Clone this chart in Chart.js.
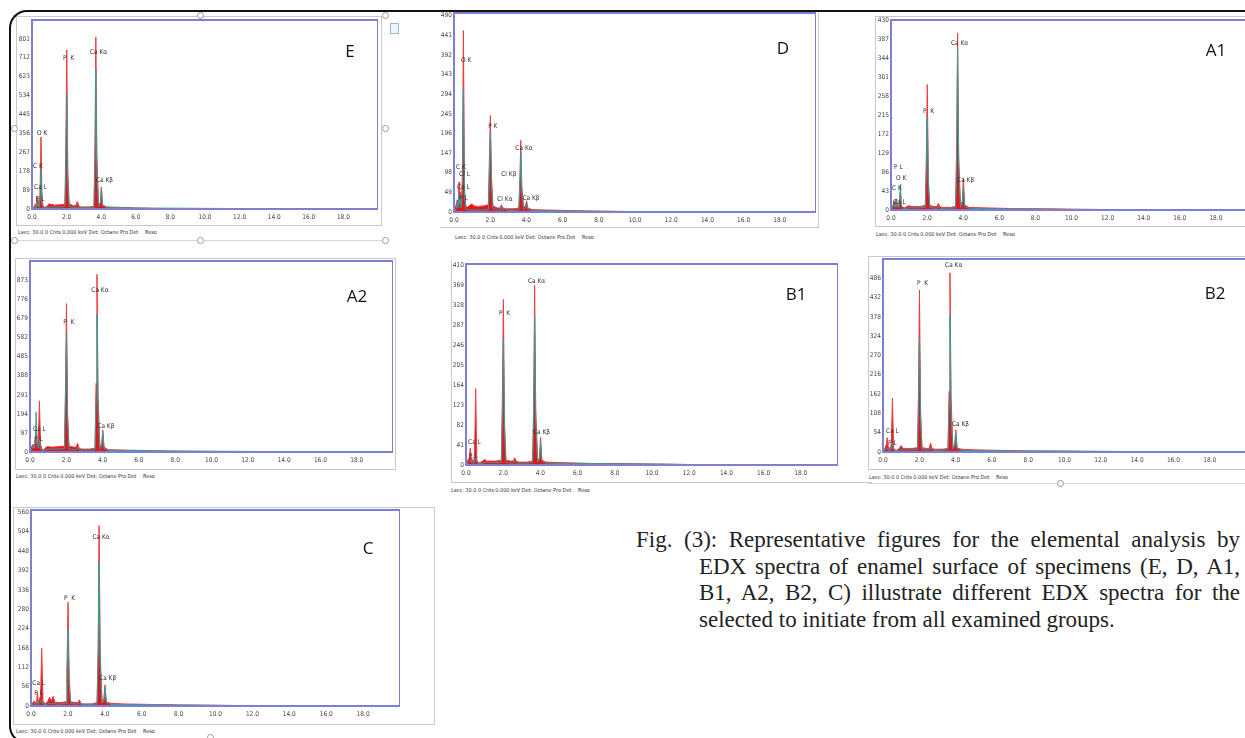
<!DOCTYPE html>
<html>
<head>
<meta charset="utf-8">
<script src="https://cdn.jsdelivr.net/npm/chart.js@4.4.1/dist/chart.umd.min.js"></script>
<style>
    html, body { margin: 0; padding: 0; background: #fff; }
    body { width: 1245px; height: 738px; overflow: hidden; position: relative; }
    .frame-outer { position: absolute; left: 9px; top: 10px; width: 1400px; height: 730px;
        border: 2.5px solid #111; border-right: none; border-radius: 18px 0 0 18px; }
    .panel-box { position: absolute; border: 1px solid #c9c9c9; }
    .rule { position: absolute; height: 0; border-top: 1px solid #d6d6d6; }
    .handle { position: absolute; width: 5px; height: 5px; border: 1px solid #999; border-radius: 50%; background: #fff; }
    .chart-wrap { position: absolute; }
    .status { position: absolute; font: 5.5px 'Liberation Sans Narrow', 'DejaVu Sans Condensed', Arial, sans-serif; color: #333; white-space: nowrap; }
    .letter { position: absolute; font: 17px 'Open Sans', 'Noto Sans', sans-serif; color: #111; transform: translate(-50%, -50%); }
    .icon { position: absolute; left: 390px; top: 23px; width: 7px; height: 9px; border: 1px solid #9bb7dd; background: #eef4fb; }
    .caption { position: absolute; left: 636px; top: 527px; width: 604px; font-family: 'Liberation Serif', 'Times New Roman', serif; font-size: 23px; color: #222; }
    .caption .ln { height: 26.7px; line-height: 26.7px; }
    .caption .j { text-align: justify; text-align-last: justify; }
    .caption .in { margin-left: 63px; }
</style>
</head>
<body>
<div class="frame-outer"></div>

<!-- panel frames -->
<div class="panel-box" style="left:16px; top:16px; width:364px; height:208px;"></div>
<div class="panel-box" style="left:440px; top:12px; width:378px; height:215px; border-left:none; border-top:none;"></div>
<div class="panel-box" style="left:875px; top:16px; width:400px; height:209px;"></div>
<div class="panel-box" style="left:15px; top:258px; width:379px; height:210px;"></div>
<div class="panel-box" style="left:451px; top:260px; width:420px; height:222px; border-right:none; border-top:none;"></div>
<div class="panel-box" style="left:868px; top:256px; width:400px; height:212px;"></div>
<div class="panel-box" style="left:13px; top:507px; width:420px; height:216px;"></div>

<div class="rule" style="left:14px; top:240px; width:371px;"></div>
<div class="rule" style="left:868px; top:483px; width:400px;"></div>
<div class="handle" style="left:197px; top:12px;"></div>
<div class="handle" style="left:382px; top:12px;"></div>
<div class="handle" style="left:11px; top:125px;"></div>
<div class="handle" style="left:382px; top:125px;"></div>
<div class="handle" style="left:11px; top:237px;"></div>
<div class="handle" style="left:197px; top:237px;"></div>
<div class="handle" style="left:382px; top:237px;"></div>
<div class="handle" style="left:1057px; top:480px;"></div>
<div class="handle" style="left:207px; top:734px;"></div>
<div class="icon"></div>

<div class="chart-wrap" id="wrapE"><canvas id="chartE"></canvas></div>
<div class="chart-wrap" id="wrapD"><canvas id="chartD"></canvas></div>
<div class="chart-wrap" id="wrapA1"><canvas id="chartA1"></canvas></div>
<div class="chart-wrap" id="wrapA2"><canvas id="chartA2"></canvas></div>
<div class="chart-wrap" id="wrapB1"><canvas id="chartB1"></canvas></div>
<div class="chart-wrap" id="wrapB2"><canvas id="chartB2"></canvas></div>
<div class="chart-wrap" id="wrapC"><canvas id="chartC"></canvas></div>

<div class="caption">
    <div class="ln j">Fig. (3): Representative figures for the elemental analysis by</div>
    <div class="ln j in">EDX spectra of enamel surface of specimens (E, D, A1,</div>
    <div class="ln j in">B1, A2, B2, C) illustrate different EDX spectra for the</div>
    <div class="ln in">selected to initiate from all examined groups.</div>
</div>

<script>
'use strict';

// energy axis shared by all spectra (keV)
const energyKeV = [0, 0.1, 0.18, 0.23, 0.28, 0.31, 0.34, 0.4, 0.46, 0.52,
    0.58, 0.65, 0.75, 0.9, 1.0, 1.1, 1.2, 1.3, 1.6, 1.9,
    1.95, 2.01, 2.07, 2.15, 2.4, 2.55, 2.62, 2.7, 2.82, 3.0,
    3.3, 3.58, 3.64, 3.69, 3.75, 3.85, 3.95, 4.01, 4.08, 4.3,
    5.0, 6.0, 7.0, 8.0, 10.0, 12.0, 14.0, 16.0, 20.0];
const energyTicks = [0, 2, 4, 6, 8, 10, 12, 14, 16, 18];

// measured counts (red) and fitted counts (teal) per specimen
const countsE = [0, 8, 22, 10, 60, 30, 45, 15, 60, 339, 40, 12, 8, 15, 25, 20, 22, 18, 20, 22,
    260, 749, 180, 25, 15, 18, 35, 15, 10, 10, 10, 12, 300, 810, 250, 20, 30, 104, 20, 10,
    8, 5, 3, 2, 1, 1, 0, 0, 0];
const fitE = [0, 3, 10, 5, 30, 15, 25, 8, 40, 185, 25, 8, 5, 8, 10, 10, 10, 10, 10, 12,
    150, 546, 120, 12, 8, 8, 15, 8, 6, 6, 6, 8, 200, 655, 160, 12, 25, 95, 15, 8,
    6, 5, 4, 4, 3, 2, 0, 0, 0];
const countsD = [5, 15, 30, 20, 75, 35, 50, 20, 80, 453, 60, 15, 12, 18, 20, 15, 15, 14, 15, 18,
    120, 241, 90, 15, 10, 10, 18, 10, 8, 8, 8, 10, 80, 179, 60, 12, 15, 28, 10, 6,
    5, 4, 3, 2, 1, 1, 0, 0, 0];
const fitD = [0, 5, 25, 10, 45, 20, 30, 10, 50, 308, 40, 8, 5, 5, 5, 5, 5, 5, 5, 6,
    90, 199, 70, 8, 5, 5, 15, 5, 8, 4, 4, 5, 60, 147, 45, 6, 10, 22, 6, 4,
    3, 3, 2, 2, 1, 0, 0, 0, 0];
const countsA1 = [3, 10, 20, 10, 25, 12, 15, 8, 12, 40, 10, 6, 5, 8, 10, 8, 8, 8, 8, 10,
    100, 284, 70, 10, 8, 8, 15, 8, 6, 6, 6, 8, 150, 400, 120, 10, 20, 72, 12, 6,
    5, 4, 3, 3, 2, 1, 1, 0, 0];
const fitA1 = [0, 5, 15, 6, 18, 8, 10, 5, 15, 58, 8, 4, 3, 4, 5, 5, 5, 5, 5, 6,
    80, 212, 55, 6, 4, 4, 8, 4, 4, 4, 4, 5, 120, 366, 100, 6, 15, 50, 8, 4,
    3, 3, 2, 2, 1, 1, 0, 0, 0];
const countsA2 = [5, 30, 40, 20, 60, 40, 120, 30, 60, 260, 40, 15, 12, 25, 28, 25, 25, 25, 28, 30,
    300, 755, 200, 30, 25, 25, 45, 20, 15, 15, 15, 20, 350, 904, 280, 25, 40, 112, 25, 12,
    10, 8, 6, 4, 3, 2, 1, 0, 0];
const fitA2 = [0, 15, 30, 20, 60, 90, 204, 40, 20, 60, 15, 8, 8, 12, 15, 15, 15, 15, 15, 18,
    250, 612, 160, 15, 12, 12, 25, 12, 10, 10, 10, 12, 260, 700, 210, 15, 30, 100, 18, 8,
    8, 7, 6, 5, 4, 3, 2, 0, 0];
const countsB1 = [3, 10, 15, 35, 15, 8, 10, 6, 20, 157, 12, 5, 5, 8, 12, 8, 8, 8, 8, 10,
    120, 340, 90, 10, 8, 8, 15, 8, 6, 6, 6, 8, 130, 369, 110, 10, 15, 57, 10, 6,
    5, 4, 3, 3, 2, 1, 1, 0, 0];
const fitB1 = [0, 4, 8, 10, 6, 4, 5, 3, 8, 20, 5, 3, 3, 4, 5, 5, 5, 5, 5, 6,
    90, 261, 70, 6, 4, 4, 8, 4, 4, 4, 4, 5, 100, 306, 90, 6, 12, 45, 8, 4,
    3, 3, 3, 2, 2, 1, 0, 0, 0];
const countsB2 = [3, 10, 20, 40, 15, 8, 12, 6, 25, 151, 12, 6, 5, 10, 18, 10, 10, 10, 10, 12,
    150, 453, 120, 12, 10, 10, 25, 10, 8, 8, 8, 10, 170, 501, 150, 12, 20, 62, 12, 8,
    6, 5, 4, 3, 2, 1, 1, 0, 0];
const fitB2 = [0, 5, 10, 12, 8, 5, 6, 4, 10, 25, 6, 4, 4, 5, 6, 6, 6, 6, 6, 7,
    110, 319, 90, 7, 6, 6, 12, 6, 5, 5, 5, 6, 130, 383, 110, 8, 15, 55, 10, 5,
    4, 4, 3, 3, 3, 2, 1, 0, 0];
const countsC = [3, 10, 15, 8, 12, 8, 40, 10, 20, 30, 167, 15, 6, 12, 25, 15, 28, 10, 10, 12,
    110, 300, 80, 12, 10, 10, 18, 8, 6, 6, 6, 10, 170, 522, 150, 12, 20, 61, 12, 8,
    6, 5, 4, 3, 2, 1, 1, 0, 0];
const fitC = [0, 5, 8, 5, 6, 5, 15, 5, 8, 10, 20, 6, 4, 6, 8, 6, 8, 6, 6, 7,
    80, 219, 60, 7, 6, 6, 10, 5, 5, 5, 5, 6, 140, 416, 120, 8, 15, 55, 10, 5,
    4, 4, 3, 3, 2, 1, 0, 0, 0];

// count axis ticks as printed by the software
const ticksE = [0, 89, 178, 267, 356, 445, 534, 623, 712, 801];
const ticksD = [0, 49, 98, 147, 196, 245, 294, 343, 392, 441, 490];
const ticksA1 = [0, 43, 86, 129, 172, 215, 258, 301, 344, 387, 430];
const ticksA2 = [0, 97, 194, 291, 388, 485, 582, 679, 776, 873];
const ticksB1 = [0, 41, 82, 123, 164, 205, 246, 287, 328, 369, 410];
const ticksB2 = [0, 54, 108, 162, 216, 270, 324, 378, 432, 486];
const ticksC = [0, 56, 112, 168, 224, 280, 336, 392, 448, 504, 560];

// peak tags: [text, keV, counts] (left edge of the text)
const tagsE = [['O K', 0.29, 358], ['C K', 0.06, 203], ['Ca L', 0.12, 104], ['P L', 0.23, 47],
    ['P  K', 1.79, 711], ['Ca Kα', 3.35, 739], ['Ca Kβ', 3.7, 137]];
const tagsD = [['O K', 0.39, 380], ['C K', 0.11, 112], ['Cl L', 0.28, 95], ['Ca L', 0.17, 62],
    ['P L', 0.28, 35], ['P K', 1.89, 214], ['Ca Kα', 3.39, 159], ['Cl Kβ', 2.61, 95],
    ['Cl Kα', 2.39, 32], ['Ca Kβ', 3.78, 35]];
const tagsA1 = [['Ca Kα', 3.32, 377], ['P  K', 1.77, 223], ['Ca Kβ', 3.66, 68], ['P L', 0.17, 97],
    ['O K', 0.28, 72], ['C K', 0.06, 50], ['Ca L', 0.11, 18]];
const tagsA2 = [['Ca Kα', 3.38, 822], ['P  K', 1.83, 658], ['Ca Kβ', 3.71, 133],
    ['Ca L', 0.17, 117], ['P L', 0.22, 66]];
const tagsB1 = [['Ca Kα', 3.33, 377], ['P  K', 1.77, 312], ['Ca Kβ', 3.6, 67],
    ['Ca L', 0.11, 47], ['P L', 0.16, 18]];
const tagsB2 = [['Ca Kα', 3.42, 521], ['P  K', 1.87, 473], ['Ca Kβ', 3.8, 78],
    ['Ca L', 0.17, 59], ['P L', 0.28, 25]];
const tagsC = [['Ca Kα', 3.33, 488], ['P  K', 1.79, 312], ['Ca Kβ', 3.69, 81],
    ['Ca L', 0.07, 66], ['P L', 0.18, 38]];

const STATUS_TEXT = 'Lsec: 30.0 0 Cnts  0.000 keV  Det: Octane Pro Det';
const SMALL_FONT = "'Liberation Sans Narrow', 'DejaVu Sans Condensed', Arial, sans-serif";

// plot rectangles on the page (px) and where the letter / status line sit
const panels = [
    { id: 'E', counts: countsE, fit: fitE, ticks: ticksE, tags: tagsE, yMax: 890,
      plot: { l: 32, t: 20, r: 378, b: 209 }, letter: [350, 50], status: [18, 233] },
    { id: 'D', counts: countsD, fit: fitD, ticks: ticksD, tags: tagsD, yMax: 497,
      plot: { l: 454, t: 13, r: 816, b: 212 }, letter: [783, 47], status: [455, 238] },
    { id: 'A1', counts: countsA1, fit: fitA1, ticks: ticksA1, tags: tagsA1, yMax: 430,
      plot: { l: 891, t: 20, r: 1252, b: 210 }, letter: [1216, 49], status: [876, 235] },
    { id: 'A2', counts: countsA2, fit: fitA2, ticks: ticksA2, tags: tagsA2, yMax: 972,
      plot: { l: 30, t: 261, r: 393, b: 452 }, letter: [357, 295], status: [16, 477] },
    { id: 'B1', counts: countsB1, fit: fitB1, ticks: ticksB1, tags: tagsB1, yMax: 413,
      plot: { l: 466, t: 264, r: 838, b: 465 }, letter: [796, 293], status: [451, 491] },
    { id: 'B2', counts: countsB2, fit: fitB2, ticks: ticksB2, tags: tagsB2, yMax: 540,
      plot: { l: 883, t: 259, r: 1246, b: 452 }, letter: [1215, 292], status: [869, 478] },
    { id: 'C', counts: countsC, fit: fitC, ticks: ticksC, tags: tagsC, yMax: 567,
      plot: { l: 31, t: 510, r: 400, b: 706 }, letter: [368, 547], status: [16, 732] }
];

const Y_AXIS_W = 22;
const X_AXIS_H = 14;
const PAD_TOP = 6;

/**
 * Blue box round the plot area plus the peak tags
 */
const spectrumDecor = {
    id: 'spectrumDecor',
    afterDatasetsDraw(chart, args, opts) {
        const ctx = chart.ctx;
        const area = chart.chartArea;
        const xs = chart.scales.x;
        const ys = chart.scales.y;

        ctx.save();
        ctx.font = '6.5px ' + SMALL_FONT;
        ctx.fillStyle = '#333';
        ctx.textAlign = 'left';
        ctx.textBaseline = 'middle';
        (opts.tags || []).forEach(function(tag) {
            ctx.fillText(tag[0], xs.getPixelForValue(tag[1]), ys.getPixelForValue(tag[2]));
        });
        ctx.restore();

        ctx.save();
        ctx.strokeStyle = '#7d80d2';
        ctx.lineWidth = 2;
        ctx.strokeRect(area.left, area.top, area.right - area.left, area.bottom - area.top);
        ctx.restore();
    }
};

/**
 * Build one spectrum chart
 */
function drawPanel(p) {
    const wrap = document.getElementById('wrap' + p.id);
    wrap.style.left = (p.plot.l - Y_AXIS_W) + 'px';
    wrap.style.top = (p.plot.t - PAD_TOP) + 'px';
    wrap.style.width = (p.plot.r - p.plot.l + Y_AXIS_W) + 'px';
    wrap.style.height = (p.plot.b - p.plot.t + PAD_TOP + X_AXIS_H) + 'px';

    const toPoints = arr => energyKeV.map((e, i) => ({ x: e, y: arr[i] }));

    new Chart(document.getElementById('chart' + p.id), {
        type: 'line',
        data: {
            datasets: [{
                label: 'Fit',
                data: toPoints(p.fit),
                borderColor: '#2f9f9c',
                borderWidth: 1,
                pointRadius: 0,
                fill: false,
                tension: 0
            }, {
                label: 'Counts',
                data: toPoints(p.counts),
                borderColor: '#f03a3a',
                backgroundColor: '#e3161c',
                borderWidth: 1,
                pointRadius: 0,
                fill: 'origin',
                tension: 0
            }]
        },
        options: {
            responsive: true,
            maintainAspectRatio: false,
            animation: false,
            events: [],
            layout: { autoPadding: false, padding: { top: PAD_TOP, left: 0, right: 0, bottom: 0 } },
            plugins: {
                legend: { display: false },
                tooltip: { enabled: false },
                spectrumDecor: { tags: p.tags }
            },
            scales: {
                x: {
                    type: 'linear',
                    min: 0,
                    max: 20,
                    grid: { display: false, drawTicks: false, tickLength: 0 },
                    border: { display: false },
                    afterBuildTicks: s => { s.ticks = energyTicks.map(v => ({ value: v })); },
                    afterFit: s => { s.height = X_AXIS_H; s.paddingLeft = 0; s.paddingRight = 0; },
                    ticks: {
                        autoSkip: false,
                        maxRotation: 0,
                        padding: 4,
                        color: '#444',
                        font: { family: SMALL_FONT, size: 6.5 },
                        callback: v => Number(v).toFixed(1)
                    }
                },
                y: {
                    min: 0,
                    max: p.yMax,
                    grid: { display: false, drawTicks: false, tickLength: 0 },
                    border: { display: false },
                    afterBuildTicks: s => { s.ticks = p.ticks.map(v => ({ value: v })); },
                    afterFit: s => { s.width = Y_AXIS_W; s.paddingTop = 0; s.paddingBottom = 0; },
                    ticks: {
                        autoSkip: false,
                        padding: 2,
                        color: '#444',
                        font: { family: SMALL_FONT, size: 6.5 },
                        callback: v => String(v)
                    }
                }
            }
        },
        plugins: [spectrumDecor]
    });

    // panel letter
    const letter = document.createElement('div');
    letter.className = 'letter';
    letter.textContent = p.id;
    letter.style.left = p.letter[0] + 'px';
    letter.style.top = p.letter[1] + 'px';
    document.body.appendChild(letter);

    // status line under the spectrum
    const status = document.createElement('div');
    status.className = 'status';
    status.style.left = p.status[0] + 'px';
    status.style.top = (p.status[1] - 4) + 'px';
    status.textContent = STATUS_TEXT;
    document.body.appendChild(status);

    const reso = document.createElement('div');
    reso.className = 'status';
    reso.style.left = (p.status[0] + 127) + 'px';
    reso.style.top = (p.status[1] - 4) + 'px';
    reso.textContent = 'Reso';
    document.body.appendChild(reso);
}

panels.forEach(drawPanel);
</script>
</body>
</html>
